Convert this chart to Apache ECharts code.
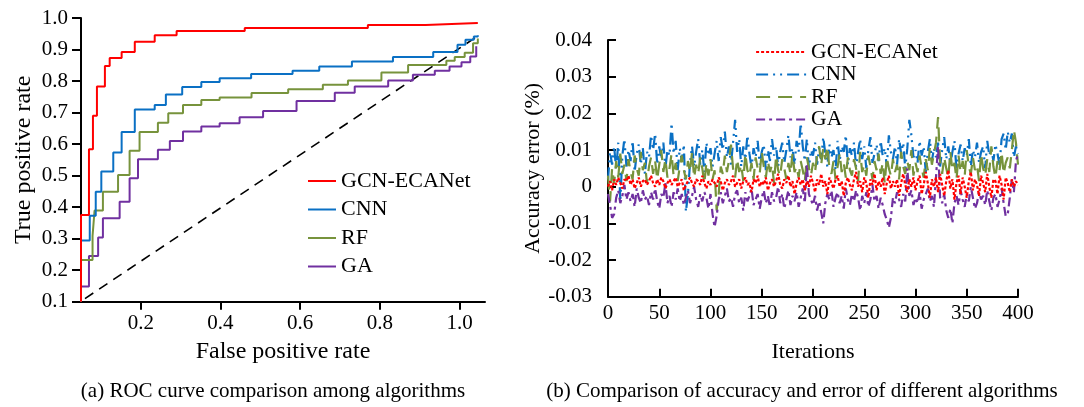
<!DOCTYPE html>
<html><head><meta charset="utf-8">
<script src="https://cdn.jsdelivr.net/npm/echarts@6/dist/echarts.min.js"></script>
<style>html,body{margin:0;padding:0;background:#fff}#c{width:1084px;height:407px}</style>
</head><body><div id="c"></div>
<script>
// ---------- (a) ROC data: at fpr[i] the tpr jumps to tpr[i] ----------
const gcnFpr = [0.05,0.05,0.070,0.080,0.090,0.110,0.122,0.152,0.185,0.235,0.290,0.461,0.770,0.915,1.046];
const gcnTpr = [0.10,0.375,0.584,0.690,0.783,0.848,0.873,0.892,0.925,0.945,0.959,0.968,0.978,0.984,0.984];
const cnnFpr = [0.05,0.05,0.072,0.087,0.101,0.131,0.152,0.185,0.235,0.263,0.304,0.352,0.398,0.477,0.581,0.648,0.730,0.833,0.934,0.995,1.015,1.036,1.046];
const cnnTpr = [0.10,0.294,0.373,0.449,0.513,0.573,0.638,0.710,0.724,0.757,0.781,0.797,0.809,0.822,0.833,0.846,0.862,0.876,0.892,0.915,0.931,0.941,0.945];
const rfFpr = [0.05,0.05,0.079,0.084,0.105,0.143,0.172,0.197,0.243,0.269,0.306,0.352,0.398,0.478,0.570,0.657,0.720,0.804,0.871,0.967,0.988,1.013,1.034,1.046];
const rfTpr = [0.10,0.232,0.309,0.389,0.449,0.502,0.579,0.638,0.668,0.698,0.724,0.740,0.748,0.762,0.774,0.788,0.802,0.827,0.851,0.864,0.876,0.890,0.920,0.935];
const gaFpr = [0.05,0.05,0.070,0.093,0.105,0.147,0.172,0.193,0.243,0.273,0.306,0.352,0.398,0.448,0.507,0.591,0.687,0.737,0.821,0.883,0.938,0.975,1.005,1.027,1.042];
const gaTpr = [0.10,0.148,0.245,0.304,0.365,0.417,0.492,0.552,0.582,0.610,0.640,0.656,0.666,0.685,0.705,0.737,0.763,0.783,0.802,0.820,0.833,0.846,0.860,0.878,0.910];
const chanceFpr = [0.06,1.045];
const chanceTpr = [0.11,0.942];
const rocTicks = [0.2,0.4,0.6,0.8,1.0];

// ---------- (b) accuracy error, one value every 2 iterations, unit 1e-4 ----------
const iterStep = 2;
const gcnErr = [
0,15,-10,20,5,25,10,-5,20,15, 30,5,20,-5,10,25,0,15,20,5, 15,30,10,0,20,5,25,15,-5,10, 20,5,15,25,0,10,20,-10,5,15,
25,10,0,20,15,5,30,10,-5,15, 5,20,10,0,25,15,-10,10,20,5, 15,30,0,10,20,-5,15,25,5,10, -15,20,10,30,0,15,5,25,-10,10,
20,0,15,35,5,-5,20,10,30,0, 15,-20,10,25,5,20,-10,15,0,30, 10,-15,20,5,35,0,15,-20,25,10, -5,20,30,0,15,-25,10,25,5,-10,
20,40,0,15,-15,25,10,-30,20,5, 35,-10,15,0,25,-20,10,30,-5,15, 0,20,-25,10,35,5,-15,20,0,25, -10,15,30,-20,5,40,10,-30,20,0,
25,-15,35,5,-25,15,45,-5,20,-35, 10,30,-20,25,0,-30,15,40,-10,20, 5,-25,30,10,-15,35,0,-30,20,15, -20,30,5,-35,25,10,-15,20,0,15, 5];
const cnnErr = [
20,95,60,110,45,120,-40,85,130,55, 100,70,125,40,90,115,60,105,35,95, 80,140,100,145,60,110,75,120,50,100, 85,173,90,125,45,105,70,115,-68,-20,
65,110,55,95,130,60,100,40,120,85, 105,55,90,125,70,135,100,150,80,110, 60,120,182,95,130,55,110,75,140,90, 50,105,80,125,60,95,115,45,100,70,
130,85,110,55,95,120,65,100,140,80, 105,60,125,95,173,110,70,130,50,100, 85,120,60,105,75,135,90,55,115,80, 100,45,125,70,110,95,140,60,105,85,
120,55,95,130,75,110,50,100,135,65, 90,115,70,125,85,105,55,140,95,75, 110,60,130,90,120,50,105,182,140,80, 100,65,125,85,110,40,95,130,70,105,
80,120,55,100,135,75,110,60,95,125, 45,90,115,70,105,85,130,55,100,80, 120,65,95,110,50,125,85,105,70,115, 90,60,130,145,100,150,120,145,80,110, 90];
const rfErr = [
30,-40,50,10,70,25,90,35,60,15, 75,40,20,85,50,30,95,45,65,10, 55,80,35,70,20,60,100,40,75,25, 50,90,30,65,15,55,85,45,20,70,
40,95,25,60,35,80,50,10,65,30, 75,20,45,-65,-20,55,35,85,40,70, 115,50,25,75,40,60,15,90,45,30, 65,20,80,50,35,95,55,25,70,40,
60,10,85,45,30,75,50,20,65,35, 90,40,55,25,70,45,15,80,50,30, 65,40,85,110,60,105,75,110,50,35, 70,20,55,90,40,65,25,80,45,30,
75,50,15,95,40,60,30,85,55,20, 70,45,90,35,65,10,80,50,30,75, 40,60,20,95,55,35,70,45,100,30, 65,40,85,50,25,75,45,105,60,90,
120,190,70,35,80,50,25,95,45,65, 20,85,40,70,30,100,55,35,80,45, 60,15,90,50,30,75,40,110,55,25, 70,45,95,35,65,80,50,100,155,120, 60];
const gaErr = [
-20,-50,-85,-75,-30,-10,-45,-25,5,-35, -15,-40,-20,-55,-5,-30,-45,-10,-35,-25, -50,-15,-35,-5,-40,-60,-20,-30,10,-45, -25,-55,-15,-35,-5,-40,-20,-50,-30,-10,
-45,-25,0,-35,-55,-20,-40,-15,-30,-60, -20,-75,-110,-80,-35,-15,-45,-25,-5,-40, -30,-55,-20,-10,-45,-30,-65,-15,-40,-25, -5,-50,-35,-20,-60,-30,-10,-45,-25,-55,
-15,-40,-30,0,-45,-20,-60,-35,-10,-50, -25,-40,-15,-55,-30,-5,-45,60,-20,-35, -50,-25,-65,-40,-70,-100,-45,-20,-35,-10, -55,-30,-15,-45,-25,-60,-5,-35,-50,-20,
-40,-10,-30,-65,-25,-45,-15,-55,-35,5, -40,-25,-60,-30,-50,-75,-90,-112,-85,-30, -45,-15,-35,-55,-20,-40,50,-25,-10,-50, -30,-45,-15,-60,-35,-20,-5,-40,-25,-55,
25,110,-30,-45,-20,-65,-85,-60,-100,-45, -25,-50,-10,-35,-55,-20,-40,0,-30,-60, -45,-15,-35,-25,-50,-10,-40,-65,-30,-20, -55,-35,-5,-45,-80,-75,-30,20,-15,70, 90];

const names = ['GCN-ECANet','CNN','RF','GA'];
const colors = {'GCN-ECANet':'#ff0000','CNN':'#0a70c4','RF':'#77933c','GA':'#7030a0'};
const dashes = {'GCN-ECANet':[3,2],'CNN':[12,5,2,5,2,5],'RF':[14,8],'GA':[9,4,3,4]};

const FONT = 'Liberation Serif';

function stepPts(xs, ys){
  const out = [];
  for (let i = 0; i < xs.length; i++) {
    if (i > 0) out.push([xs[i], ys[i-1]]);
    out.push([xs[i], ys[i]]);
  }
  return out;
}
function errPts(vals){ return vals.map((v,i)=>[i*iterStep, v/10000]); }

const roc = {'GCN-ECANet':[gcnFpr,gcnTpr],'CNN':[cnnFpr,cnnTpr],'RF':[rfFpr,rfTpr],'GA':[gaFpr,gaTpr]};
const err = {'GCN-ECANet':gcnErr,'CNN':cnnErr,'RF':rfErr,'GA':gaErr};

const series = [];
series.push({type:'line', xAxisIndex:0, yAxisIndex:0, symbol:'none', silent:true,
  data: chanceFpr.map((x,i)=>[x, chanceTpr[i]]),
  lineStyle:{color:'#000', width:1.6, type:[10,7]}, z:1});
['GA','RF','CNN','GCN-ECANet'].forEach(n=>{
  series.push({type:'line', name:n, xAxisIndex:0, yAxisIndex:0, symbol:'none',
    data: stepPts(roc[n][0], roc[n][1]), color:colors[n],
    lineStyle:{color:colors[n], width:2}, z:2});
});
['CNN','RF','GA','GCN-ECANet'].forEach(n=>{
  series.push({type:'line', name:n, xAxisIndex:1, yAxisIndex:1, symbol:'none',
    data: errPts(err[n]), color:colors[n],
    lineStyle:{color:colors[n], width:2.2, type:dashes[n]}, z:2});
});

const axisBlack = {lineStyle:{color:'#000', width:2}};
const TICK = 21;
const option = {
  animation:false,
  backgroundColor:'#fff',
  textStyle:{fontFamily:FONT, color:'#000'},
  grid:[
    {left:81, top:18, width:404, height:283.7},
    {left:608, top:40, width:410, height:256.7}
  ],
  xAxis:[
    {gridIndex:0, type:'value', min:0.05, max:1.064,
     axisLine:{onZero:false, ...axisBlack},
     axisTick:{customValues:rocTicks, length:8, lineStyle:{color:'#000', width:2}},
     axisLabel:{customValues:rocTicks, formatter:v=>v.toFixed(1), fontSize:TICK, color:'#000', margin:11, fontFamily:FONT},
     splitLine:{show:false},
     name:'False positive rate', nameLocation:'middle', nameGap:38,
     nameTextStyle:{fontSize:24, color:'#000', fontFamily:FONT}},
    {gridIndex:1, type:'value', min:0, max:400, interval:50,
     axisLine:{onZero:false, ...axisBlack},
     axisTick:{inside:true, length:8, lineStyle:{color:'#000', width:2}},
     axisLabel:{fontSize:TICK, color:'#000', margin:6, fontFamily:FONT},
     splitLine:{show:false},
     name:'Iterations', nameLocation:'middle', nameGap:45,
     nameTextStyle:{fontSize:22, color:'#000', fontFamily:FONT}}
  ],
  yAxis:[
    {gridIndex:0, type:'value', min:0.1, max:1.0, interval:0.1,
     axisLine:{show:true, onZero:false, ...axisBlack},
     axisTick:{show:true, length:9, lineStyle:{color:'#000', width:2}},
     axisLabel:{formatter:v=>v.toFixed(1), fontSize:TICK, color:'#000', margin:13, fontFamily:FONT},
     splitLine:{show:false},
     name:'True positive rate', nameLocation:'middle', nameGap:45,
     nameTextStyle:{fontSize:24, color:'#000', fontFamily:FONT}},
    {gridIndex:1, type:'value', min:-0.03, max:0.04, interval:0.01,
     axisLine:{show:true, onZero:false, ...axisBlack},
     axisTick:{show:true, inside:true, length:8, lineStyle:{color:'#000', width:2}},
     axisLabel:{formatter:v=>Math.abs(v)<1e-9?'0':v.toFixed(2), fontSize:TICK, color:'#000', margin:16, fontFamily:FONT},
     splitLine:{show:false},
     name:'Accuracy error (%)', nameLocation:'middle', nameGap:62,
     nameTextStyle:{fontSize:22, color:'#000', fontFamily:FONT}}
  ],
  legend:[
    {left:307, top:170, padding:0, orient:'vertical', itemWidth:28, itemHeight:10, itemGap:6.5,
     itemStyle:{opacity:0},
     textStyle:{fontSize:22, color:'#000', fontFamily:FONT, lineHeight:20},
     data:names.map(n=>({name:n, itemStyle:{opacity:0}, lineStyle:{type:'solid', color:colors[n], width:2}}))},
    {left:755, top:41, padding:0, orient:'vertical', itemWidth:50, itemHeight:10, itemGap:0.5,
     itemStyle:{opacity:0},
     textStyle:{fontSize:21.5, color:'#000', fontFamily:FONT, lineHeight:19},
     data:names.map(n=>({name:n, itemStyle:{opacity:0}, lineStyle:{type:dashes[n], color:colors[n], width:2.2}}))}
  ],
  graphic:[
    {type:'text', x:273, y:391, style:{text:'(a) ROC curve comparison among algorithms', font:'21px "Liberation Serif"', textAlign:'center', textVerticalAlign:'middle', fill:'#000'}},
    {type:'text', x:802, y:391, style:{text:'(b) Comparison of accuracy and error of different algorithms', font:'21px "Liberation Serif"', textAlign:'center', textVerticalAlign:'middle', fill:'#000'}}
  ],
  series: series
};
const chart = echarts.init(document.getElementById('c'), null, {renderer:'canvas'});
chart.setOption(option);
</script></body></html>
